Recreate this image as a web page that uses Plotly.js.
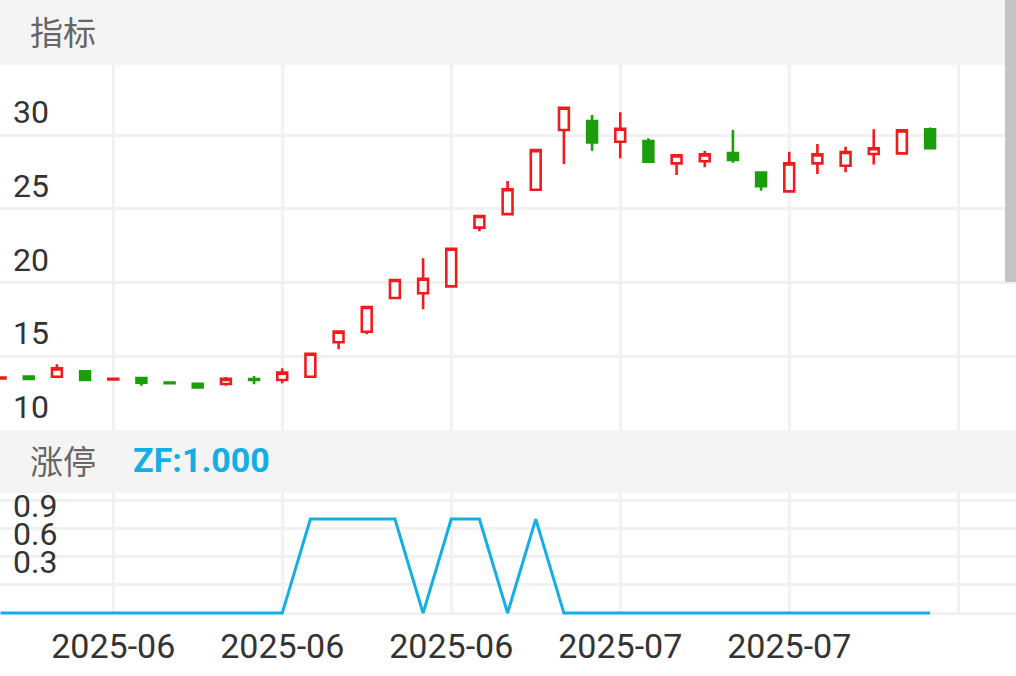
<!DOCTYPE html>
<html>
<head>
<meta charset="utf-8">
<script src="https://cdn.plot.ly/plotly-3.0.1.min.js"></script>
<style>
  html, body { margin: 0; padding: 0; background: #ffffff; }
  #chart { width: 1016px; height: 676px; }
</style>
</head>
<body>
<div id="chart"></div>
<script>
// ---- data ----
var idx = [0,1,2,3,4,5,6,7,8,9,10,11,12,13,14,15,16,17,18,19,20,21,22,23,24,25,26,27,28,29,30,31,32,33];
var openV  = [13.50,13.62,13.61,13.98,13.42,13.53,13.21,13.14,13.12,13.45,13.39,13.61,15.95,16.66,18.95,19.27,19.74,23.72,24.64,26.29,30.34,30.95,29.55,29.59,28.08,28.22,28.78,27.46,26.18,28.08,27.92,28.71,28.76,30.39];
var highV  = [13.56,13.63,14.45,13.98,13.55,13.53,13.22,13.14,13.59,13.66,14.18,15.17,16.67,18.34,20.17,21.64,22.29,24.51,26.88,28.98,31.85,31.36,31.54,29.78,28.62,28.92,30.34,27.50,28.87,29.39,29.21,30.39,30.32,30.52];
var lowV   = [13.49,13.46,13.55,13.40,13.38,13.00,13.17,12.89,13.00,13.10,13.17,13.61,15.47,16.50,18.95,18.18,19.74,23.47,24.64,26.29,28.03,28.94,28.42,28.19,27.29,27.81,28.12,26.22,26.18,27.36,27.47,28.01,28.76,29.10];
var closeV = [13.55,13.46,14.18,13.40,13.47,13.21,13.17,12.89,13.47,13.40,13.89,15.17,16.67,18.34,20.17,20.26,22.29,24.51,26.32,28.98,31.85,29.50,30.43,28.19,28.62,28.69,28.31,26.54,28.08,28.69,28.85,29.10,30.32,29.10];
var zfV    = [0,0,0,0,0,0,0,0,0,0,0,1,1,1,1,0,1,1,0,1,0,0,0,0,0,0,0,0,0,0,0,0,0,0];

var xTickVals  = [4,10,16,22,28,34];
var xTickText  = ["2025-06","2025-06","2025-06","2025-07","2025-07",""];
var yTickVals  = [10,15,20,25,30];
var yTickText  = ["10","15","20","25","30"];
var y2TickVals = [0,0.3,0.6,0.9,1.2];
var y2TickText = ["","0.3","0.6","0.9",""];

var RED = "#ee1c1c", GREEN = "#1b9e0b", BLUE = "#13aee6";
var GRID = "#f1f1f1";
var W = 1016, H = 676;
function py(p) { return 1 - p / H; }
function px(p) { return p / W; }

var traces = [
  {
    type: "candlestick",
    x: idx, open: openV, high: highV, low: lowV, close: closeV,
    xaxis: "x", yaxis: "y",
    increasing: { line: { color: RED, width: 2.6 }, fillcolor: "#ffffff" },
    decreasing: { line: { color: GREEN, width: 2.6 }, fillcolor: GREEN },
    whiskerwidth: 0,
    hoverinfo: "skip"
  },
  {
    type: "scatter", mode: "lines",
    x: idx, y: zfV,
    xaxis: "x2", yaxis: "y2",
    line: { color: BLUE, width: 3 },
    hoverinfo: "skip"
  }
];

var numFont = { family: "Roboto, 'Noto Sans', sans-serif", size: 32, color: "#333333" };

var layout = {
  width: W, height: H,
  margin: { l: 0, r: 0, t: 0, b: 0, pad: 0 },
  paper_bgcolor: "#ffffff", plot_bgcolor: "#ffffff",
  showlegend: false,
  boxgap: 0.5,
  xaxis: {
    domain: [0, 1], range: [-0.02, 36.05], anchor: "y",
    rangeslider: { visible: false },
    tickvals: xTickVals, ticktext: xTickText, showticklabels: false,
    showgrid: true, gridcolor: GRID, gridwidth: 3,
    zeroline: false, showline: false, ticks: "", fixedrange: true
  },
  yaxis: {
    domain: [py(430), py(65)], range: [10, 34.75], anchor: "x",
    tickvals: yTickVals, ticktext: yTickText,
    ticklabelposition: "inside", ticklabelshift: -23, ticklabelstandoff: 10,
    tickfont: numFont,
    showgrid: true, gridcolor: GRID, gridwidth: 3,
    zeroline: false, showline: false, ticks: "", fixedrange: true
  },
  xaxis2: {
    domain: [0, 1], range: [-0.02, 36.05], anchor: "y2",
    tickvals: xTickVals, ticktext: xTickText,
    tickfont: { family: "Roboto, 'Noto Sans', sans-serif", size: 34, color: "#333333" },
    ticklabelstandoff: 8,
    showgrid: true, gridcolor: GRID, gridwidth: 3,
    zeroline: false, showline: false, ticks: "", fixedrange: true
  },
  yaxis2: {
    domain: [py(615), py(466)], range: [-0.02, 1.565], anchor: "x2",
    tickvals: y2TickVals, ticktext: y2TickText,
    ticklabelposition: "inside", ticklabelshift: -23, ticklabelstandoff: 10,
    tickfont: numFont,
    showgrid: true, gridcolor: GRID, gridwidth: 3,
    zeroline: false, showline: false, ticks: "", fixedrange: true
  },
  shapes: [
    { type: "rect", xref: "paper", yref: "paper", x0: 0, x1: 1, y0: py(65), y1: 1,
      fillcolor: "#f4f4f4", line: { width: 0 }, layer: "above" },
    { type: "rect", xref: "paper", yref: "paper", x0: 0, x1: 1, y0: py(493), y1: py(430),
      fillcolor: "#f4f4f4", line: { width: 0 }, layer: "above" },
    { type: "rect", xref: "paper", yref: "paper", x0: px(1005), x1: 1, y0: py(282), y1: 1,
      fillcolor: "#c4c4c4", line: { width: 0 }, layer: "above" }
  ],
  annotations: [
    { xref: "paper", yref: "paper", x: px(28), y: py(31), xanchor: "left", yanchor: "middle",
      text: "指标", showarrow: false,
      font: { family: "'Noto Sans CJK SC', sans-serif", size: 33, color: "#666666" } },
    { xref: "paper", yref: "paper", x: px(28), y: py(460), xanchor: "left", yanchor: "middle",
      text: "涨停", showarrow: false,
      font: { family: "'Noto Sans CJK SC', sans-serif", size: 33, color: "#666666" } },
    { xref: "paper", yref: "paper", x: px(131), y: py(460), xanchor: "left", yanchor: "middle",
      text: "<b>ZF:1.000</b>", showarrow: false,
      font: { family: "Roboto, 'Noto Sans', sans-serif", size: 34, color: BLUE } }
  ]
};

Plotly.newPlot("chart", traces, layout, { staticPlot: true, displayModeBar: false });
</script>
</body>
</html>
